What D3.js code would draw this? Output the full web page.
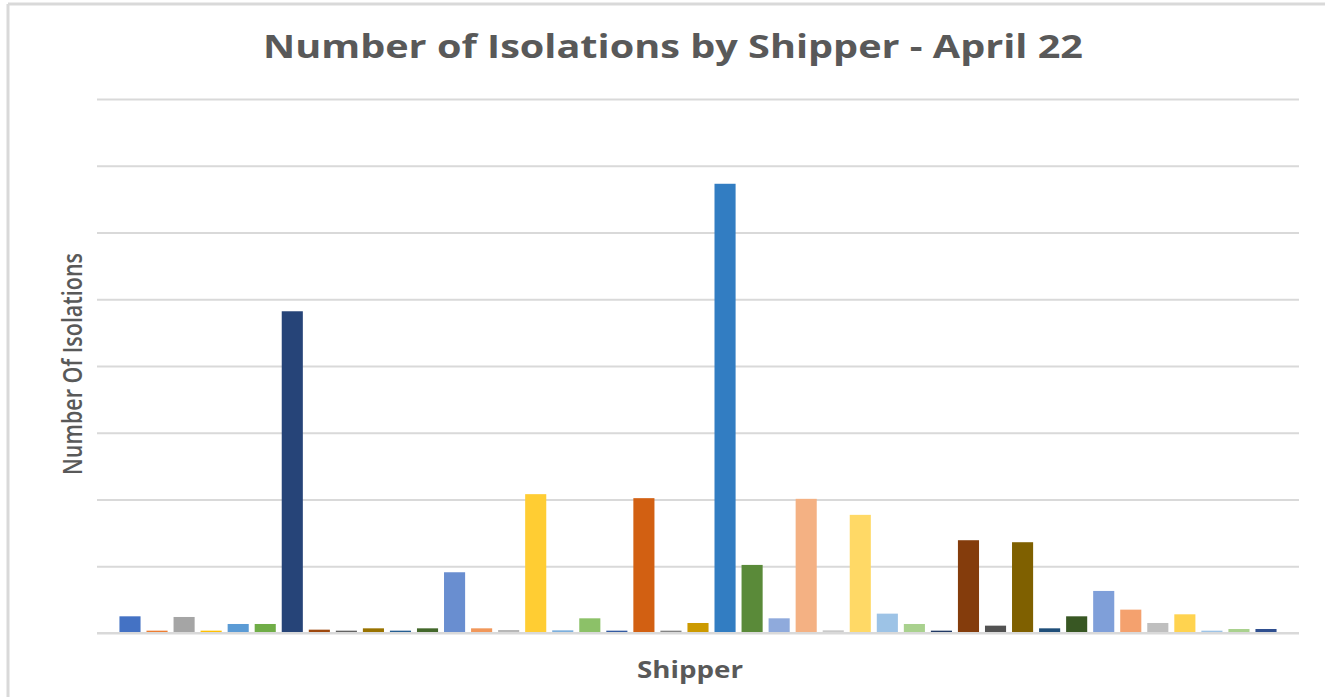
<!DOCTYPE html>
<html>
<head>
<meta charset="utf-8">
<script src="https://cdn.jsdelivr.net/npm/d3@7"></script>
<style>
  html, body { margin: 0; padding: 0; background: #fff; }
  svg { display: block; }
  .grid line { stroke: #d9d9d9; stroke-width: 2; }
  .grid path { display: none; }
</style>
</head>
<body>
<div id="chart"></div>
<script>
// shippers (names hidden in the original, so just numbered)
const shippers = d3.range(1, 44).map(i => 'S' + i);
const isolations = [
  2.5, 0.35, 2.4, 0.35, 1.35, 1.35, 48.2, 0.5, 0.35, 0.7,
  0.35, 0.7, 9.1, 0.7, 0.45, 20.8, 0.4, 2.2, 0.35, 20.2,
  0.35, 1.5, 67.3, 10.2, 2.2, 20.1, 0.4, 17.7, 2.9, 1.35,
  0.35, 13.9, 1.1, 13.6, 0.7, 2.5, 6.3, 3.5, 1.5, 2.8,
  0.35, 0.6, 0.6
];
const yTicks = [0, 10, 20, 30, 40, 50, 60, 70, 80];

const barColors = [
  '#4472C4', '#ED7D31', '#A5A5A5', '#FFC000', '#5B9BD5', '#70AD47', '#264478', '#9E480E', '#636363', '#997300',
  '#255E91', '#43682B', '#698ED0', '#F1975A', '#B7B7B7', '#FFCD33', '#7CAFDD', '#8CC168', '#335AA1', '#D26012',
  '#848484', '#CC9A00', '#327DC2', '#5A8A39', '#8FAADC', '#F4B183', '#C9C9C9', '#FFD966', '#9DC3E6', '#A9D18E',
  '#203864', '#843C0C', '#525252', '#7F6000', '#1F4E79', '#385723', '#7F9FD9', '#F4A16E', '#BFBFBF', '#FFD34F',
  '#9DC3E6', '#A9D18E', '#2F4F8F'
];

const width = 1325, height = 697;
const margin = { top: 99, right: 26, bottom: 64, left: 97 };
const innerW = width - margin.left - margin.right;
const innerH = height - margin.top - margin.bottom;

const svg = d3.select('#chart').append('svg')
  .attr('width', width)
  .attr('height', height);

// chart frame (only top and left edges show in the picture)
svg.append('line').attr('x1', 8).attr('x2', 8).attr('y1', 4).attr('y2', height)
  .attr('stroke', '#d9d9d9').attr('stroke-width', 3);
svg.append('line').attr('x1', 8).attr('x2', width).attr('y1', 4).attr('y2', 4)
  .attr('stroke', '#d9d9d9').attr('stroke-width', 3);

const g = svg.append('g').attr('transform', 'translate(' + margin.left + ',' + margin.top + ')');

const x = d3.scaleBand()
  .domain(shippers)
  .range([0, innerW])
  .paddingInner(0.22)
  .paddingOuter(0.83);

const y = d3.scaleLinear()
  .domain([0, 80])
  .range([innerH, 0]);

/* gridlines */
g.append('g')
  .attr('class', 'grid')
  .call(d3.axisLeft(y).tickValues(yTicks).tickSize(-innerW).tickFormat(''));

/* baseline, under the bars */
g.append('line')
  .attr('x1', 0).attr('x2', innerW)
  .attr('y1', y(0)).attr('y2', y(0))
  .attr('stroke', '#d9d9d9').attr('stroke-width', 2);

/* bars */
g.append('g').selectAll('rect')
  .data(isolations)
  .enter().append('rect')
  .attr('x', (d, i) => x(shippers[i]))
  .attr('y', d => y(d))
  .attr('width', x.bandwidth())
  .attr('height', d => innerH - y(d) - 1)
  .attr('fill', (d, i) => barColors[i]);

/* title */
svg.append('text')
  .attr('x', 673)
  .attr('y', 58)
  .attr('text-anchor', 'middle')
  .attr('fill', '#595959')
  .attr('textLength', 820)
  .attr('lengthAdjust', 'spacingAndGlyphs')
  .style('font-family', '"Open Sans", "DejaVu Sans", sans-serif')
  .style('font-weight', 'bold')
  .style('font-size', '33px')
  .text('Number of Isolations by Shipper - April 22');

/* y axis label */
svg.append('text')
  .attr('transform', 'rotate(-90)')
  .attr('x', -364)
  .attr('y', 82)
  .attr('text-anchor', 'middle')
  .attr('fill', '#595959')
  .attr('textLength', 222)
  .attr('lengthAdjust', 'spacingAndGlyphs')
  .style('font-family', '"Open Sans", sans-serif')
  .style('font-weight', 600)
  .style('font-size', '27px')
  .text('Number Of Isolations');

/* x axis label */
svg.append('text')
  .attr('x', 690)
  .attr('y', 678)
  .attr('text-anchor', 'middle')
  .attr('fill', '#595959')
  .attr('textLength', 106)
  .attr('lengthAdjust', 'spacingAndGlyphs')
  .style('font-family', '"Open Sans", "DejaVu Sans", sans-serif')
  .style('font-weight', 'bold')
  .style('font-size', '24px')
  .text('Shipper');
</script>
</body>
</html>
